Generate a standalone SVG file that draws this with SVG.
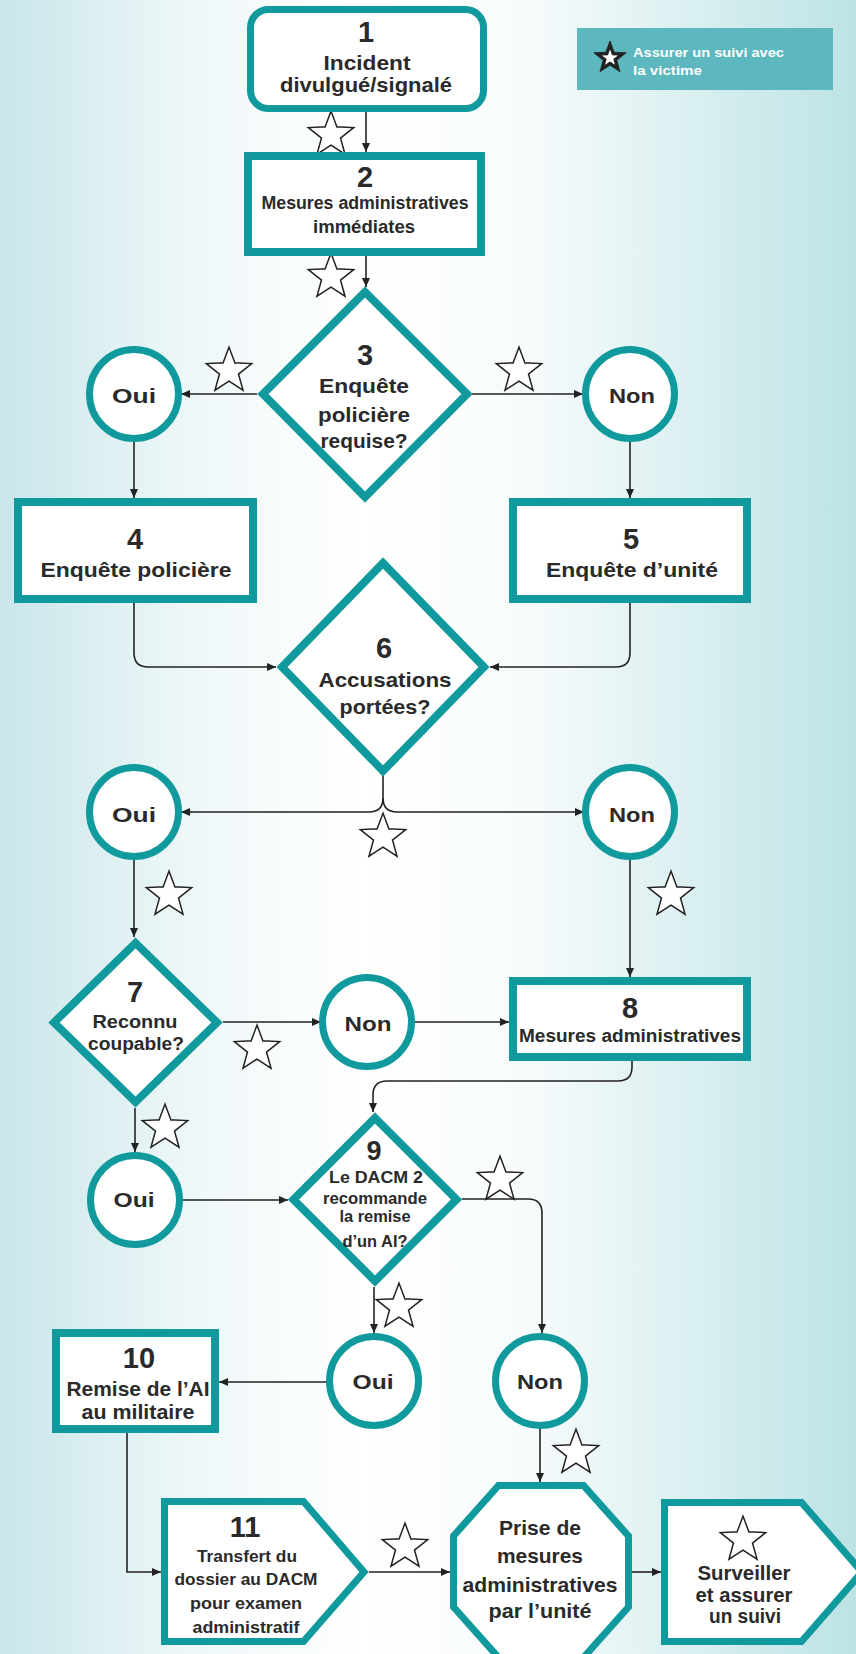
<svg xmlns="http://www.w3.org/2000/svg" xmlns:xlink="http://www.w3.org/1999/xlink" width="856" height="1654" viewBox="0 0 856 1654">
<defs>
<linearGradient id="bg" x1="0" y1="0" x2="1" y2="0">
<stop offset="0" stop-color="#c9e6ea"/>
<stop offset="0.22" stop-color="#eef7f8"/>
<stop offset="0.42" stop-color="#ffffff"/>
<stop offset="0.62" stop-color="#f7fbfc"/>
<stop offset="1" stop-color="#bde3e5"/>
</linearGradient>
<marker id="ah" markerUnits="userSpaceOnUse" markerWidth="10" markerHeight="9" refX="9" refY="4" orient="auto">
<path d="M0,0 L9,4 L0,8 Z" fill="#222"/>
</marker>
<path id="starp" d="M0,-20 L4.94,-6.8 L19.02,-6.18 L7.99,2.6 L11.76,16.18 L0,8.4 L-11.76,16.18 L-7.99,2.6 L-19.02,-6.18 L-4.94,-6.8 Z"/>
<g id="star">
<use xlink:href="#starp" fill="#fff" stroke="#222" stroke-width="4.2" stroke-linejoin="miter"/>
<use xlink:href="#starp" fill="#fff" stroke="#fff" stroke-width="1.2" stroke-linejoin="miter"/>
</g>
</defs>
<style>
.sh{fill:#fff;stroke:#119a9d;stroke-width:7}
.bx{fill:#fff;stroke:#119a9d;stroke-width:8}
.cn{fill:none;stroke:#222;stroke-width:1.6;marker-end:url(#ah)}
.cl{fill:none;stroke:#222;stroke-width:1.6}
text{font-family:"Liberation Sans Narrow","Liberation Sans",Arial,sans-serif;font-weight:bold;fill:#2a2a2a;text-anchor:middle}
.n{font-size:29px}
.t21{font-size:21px}
.t18{font-size:18px}
.t16{font-size:16px}
.lg{font-size:13px;fill:#fff;text-anchor:start}
</style>
<rect x="0" y="0" width="856" height="1654" fill="url(#bg)"/>

<g id="legend">
<rect x="577" y="28" width="256" height="62" fill="#5cb8be"/>
<use xlink:href="#starp" transform="translate(610,58) scale(0.85)" fill="#222" stroke="#222" stroke-width="1"/>
<use xlink:href="#starp" transform="translate(610,58) scale(0.42)" fill="#fff"/>
<text class="lg" x="633" y="57" textLength="151" lengthAdjust="spacingAndGlyphs">Assurer un suivi avec</text>
<text class="lg" x="633" y="75" textLength="69" lengthAdjust="spacingAndGlyphs">la victime</text>
</g>

<g id="connectors">
<path class="cn" d="M366,112 V152"/>
<path class="cn" d="M366,256 V287"/>
<path class="cn" d="M257,394 H181"/>
<path class="cn" d="M472,394 H583"/>
<path class="cn" d="M134,442 V498"/>
<path class="cn" d="M630,442 V498"/>
<path class="cn" d="M134,603 V653 Q134,667 148,667 H276"/>
<path class="cn" d="M630,603 V653 Q630,667 616,667 H490"/>
<path class="cl" d="M383,776 V798"/>
<path class="cn" d="M383,798 Q383,812 369,812 H181"/>
<path class="cn" d="M383,798 Q383,812 397,812 H584"/>
<path class="cn" d="M134,860 V937"/>
<path class="cn" d="M630,860 V977"/>
<path class="cn" d="M223,1022 H321"/>
<path class="cn" d="M413,1022 H509"/>
<path class="cn" d="M632,1061 V1067 Q632,1081 618,1081 H387 Q373,1081 373,1095 V1112"/>
<path class="cn" d="M135,1108 V1152"/>
<path class="cn" d="M183,1200 H288"/>
<path class="cn" d="M462,1199 H528 Q542,1199 542,1213 V1333"/>
<path class="cn" d="M374,1287 V1333"/>
<path class="cn" d="M329,1382 H219"/>
<path class="cn" d="M127,1433 V1572 H161"/>
<path class="cn" d="M369,1572 H450"/>
<path class="cn" d="M540,1428 V1482"/>
<path class="cn" d="M632,1572 H661"/>
</g>

<g id="stars">
<use xlink:href="#star" x="331" y="135"/>
<use xlink:href="#star" x="331" y="277"/>
<use xlink:href="#star" x="229" y="371"/>
<use xlink:href="#star" x="519" y="371"/>
<use xlink:href="#star" x="383" y="837"/>
<use xlink:href="#star" x="169" y="895"/>
<use xlink:href="#star" x="671" y="895"/>
<use xlink:href="#star" x="257" y="1049"/>
<use xlink:href="#star" x="165" y="1128"/>
<use xlink:href="#star" x="500" y="1180"/>
<use xlink:href="#star" x="399" y="1307"/>
<use xlink:href="#star" x="405" y="1547"/>
<use xlink:href="#star" x="576" y="1453"/>
</g>

<g id="n1">
<rect class="sh" x="250.5" y="9.5" width="233" height="99" rx="18"/>
<text class="n" x="366" y="42">1</text>
<text class="t21" x="367" y="70" textLength="87" lengthAdjust="spacingAndGlyphs">Incident</text>
<text class="t21" x="366" y="92" textLength="172" lengthAdjust="spacingAndGlyphs">divulgué/signalé</text>
</g>

<g id="n2">
<rect class="bx" x="248" y="156" width="233" height="96"/>
<text class="n" x="365" y="187">2</text>
<text class="t18" x="365" y="209" textLength="207" lengthAdjust="spacingAndGlyphs">Mesures administratives</text>
<text class="t18" x="364" y="233" textLength="102" lengthAdjust="spacingAndGlyphs">immédiates</text>
</g>

<g id="n3">
<path class="bx" d="M365,292 L467,394 L365,497 L263,394 Z"/>
<text class="n" x="365" y="365">3</text>
<text class="t21" x="364" y="393" textLength="90" lengthAdjust="spacingAndGlyphs">Enquête</text>
<text class="t21" x="364" y="422" textLength="92" lengthAdjust="spacingAndGlyphs">policière</text>
<text class="t21" x="364" y="448" textLength="87" lengthAdjust="spacingAndGlyphs">requise?</text>
</g>

<g id="oui1">
<circle class="sh" cx="134" cy="394" r="44.5"/>
<text class="t21" x="134" y="403" textLength="44" lengthAdjust="spacingAndGlyphs">Oui</text>
</g>
<g id="non1">
<circle class="sh" cx="630" cy="394" r="44.5"/>
<text class="t21" x="632" y="403" textLength="46" lengthAdjust="spacingAndGlyphs">Non</text>
</g>

<g id="n4">
<rect class="bx" x="18" y="502" width="235" height="97"/>
<text class="n" x="135" y="549">4</text>
<text class="t21" x="136" y="577" textLength="191" lengthAdjust="spacingAndGlyphs">Enquête policière</text>
</g>
<g id="n5">
<rect class="bx" x="513" y="502" width="234" height="97"/>
<text class="n" x="631" y="549">5</text>
<text class="t21" x="632" y="577" textLength="172" lengthAdjust="spacingAndGlyphs">Enquête d’unité</text>
</g>

<g id="n6">
<path class="bx" d="M383,563 L484,667 L383,771 L282,667 Z"/>
<text class="n" x="384" y="658">6</text>
<text class="t21" x="385" y="687" textLength="133" lengthAdjust="spacingAndGlyphs">Accusations</text>
<text class="t21" x="385" y="714" textLength="91" lengthAdjust="spacingAndGlyphs">portées?</text>
</g>

<g id="oui2">
<circle class="sh" cx="134" cy="812" r="44.5"/>
<text class="t21" x="134" y="822" textLength="44" lengthAdjust="spacingAndGlyphs">Oui</text>
</g>
<g id="non2">
<circle class="sh" cx="630" cy="812" r="44.5"/>
<text class="t21" x="632" y="822" textLength="46" lengthAdjust="spacingAndGlyphs">Non</text>
</g>

<g id="n7">
<path class="bx" d="M135.5,943 L217,1022.5 L135.5,1102 L54,1022.5 Z"/>
<text class="n" x="135" y="1002">7</text>
<text class="t18" x="135" y="1028" textLength="85" lengthAdjust="spacingAndGlyphs">Reconnu</text>
<text class="t18" x="136" y="1050" textLength="96" lengthAdjust="spacingAndGlyphs">coupable?</text>
</g>

<g id="non3">
<circle class="sh" cx="367" cy="1022" r="44.5"/>
<text class="t21" x="368" y="1031" textLength="47" lengthAdjust="spacingAndGlyphs">Non</text>
</g>

<g id="n8">
<rect class="bx" x="513" y="981" width="234" height="76"/>
<text class="n" x="630" y="1018">8</text>
<text class="t18" x="630" y="1042" textLength="222" lengthAdjust="spacingAndGlyphs">Mesures administratives</text>
</g>

<g id="oui3">
<circle class="sh" cx="135" cy="1200" r="44.5"/>
<text class="t21" x="134" y="1207" textLength="41" lengthAdjust="spacingAndGlyphs">Oui</text>
</g>

<g id="n9">
<path class="bx" d="M375,1118 L456.5,1199.5 L375,1281 L293.5,1199.5 Z"/>
<text class="n" x="374" y="1160" style="font-size:27px">9</text>
<text class="t16" x="376" y="1183" textLength="94" lengthAdjust="spacingAndGlyphs">Le DACM 2</text>
<text class="t16" x="375" y="1204" textLength="104" lengthAdjust="spacingAndGlyphs">recommande</text>
<text class="t16" x="375" y="1222" textLength="71" lengthAdjust="spacingAndGlyphs">la remise</text>
<text class="t16" x="375" y="1247" textLength="65" lengthAdjust="spacingAndGlyphs">d’un AI?</text>
</g>

<g id="oui4">
<circle class="sh" cx="374" cy="1381" r="44.5"/>
<text class="t21" x="373" y="1389" textLength="41" lengthAdjust="spacingAndGlyphs">Oui</text>
</g>
<g id="non4">
<circle class="sh" cx="540" cy="1381" r="44.5"/>
<text class="t21" x="540" y="1389" textLength="46" lengthAdjust="spacingAndGlyphs">Non</text>
</g>

<g id="n10">
<rect class="bx" x="56" y="1333" width="159" height="96"/>
<text class="n" x="139" y="1368">10</text>
<text class="t21" x="138" y="1396" textLength="143" lengthAdjust="spacingAndGlyphs">Remise de l’AI</text>
<text class="t21" x="138" y="1419" textLength="113" lengthAdjust="spacingAndGlyphs">au militaire</text>
</g>

<g id="n11">
<path class="sh" d="M164.5,1501.5 H303.5 L364,1572 L303.5,1641.5 H164.5 Z"/>
<text class="n" x="245" y="1537">11</text>
<text class="t16" x="247" y="1562" textLength="100" lengthAdjust="spacingAndGlyphs">Transfert du</text>
<text class="t16" x="246" y="1585" textLength="143" lengthAdjust="spacingAndGlyphs">dossier au DACM</text>
<text class="t16" x="246" y="1609" textLength="112" lengthAdjust="spacingAndGlyphs">pour examen</text>
<text class="t16" x="246" y="1633" textLength="107" lengthAdjust="spacingAndGlyphs">administratif</text>
</g>

<g id="n12">
<path class="sh" d="M498.5,1485.5 H583.5 L628.5,1536 V1607 L583.5,1657.5 H498.5 L453.5,1607 V1536 Z"/>
<text class="t21" x="540" y="1535" textLength="82" lengthAdjust="spacingAndGlyphs">Prise de</text>
<text class="t21" x="540" y="1563" textLength="86" lengthAdjust="spacingAndGlyphs">mesures</text>
<text class="t21" x="540" y="1592" textLength="155" lengthAdjust="spacingAndGlyphs">administratives</text>
<text class="t21" x="540" y="1618" textLength="103" lengthAdjust="spacingAndGlyphs">par l’unité</text>
</g>

<g id="n13">
<path class="sh" d="M664.5,1502.5 H801.5 L862,1572 L801.5,1641.5 H664.5 Z"/>
<use xlink:href="#star" x="743" y="1540"/>
<text class="t21" x="744" y="1580" textLength="93" lengthAdjust="spacingAndGlyphs">Surveiller</text>
<text class="t21" x="744" y="1602" textLength="97" lengthAdjust="spacingAndGlyphs">et assurer</text>
<text class="t21" x="745" y="1623" textLength="72" lengthAdjust="spacingAndGlyphs">un suivi</text>
</g>
</svg>
